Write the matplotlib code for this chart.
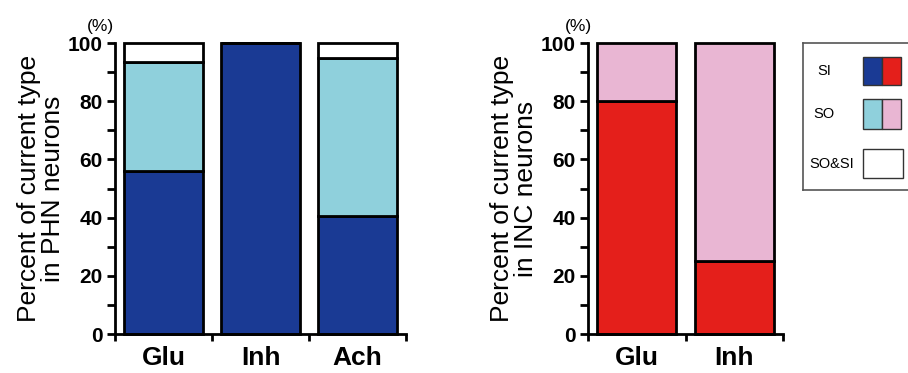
import matplotlib
matplotlib.use("Agg")
import matplotlib.pyplot as plt
from matplotlib.patches import Rectangle

plt.rcParams['font.family'] = ['Liberation Sans', 'DejaVu Sans']

# PHN neurons (left panel)
phn_cats = ["Glu", "Inh", "Ach"]
phn_si = [56, 100, 40.5]
phn_so = [37.5, 0, 54.5]
phn_sosi = [6.5, 0, 5]

# INC neurons (right panel)
inc_cats = ["Glu", "Inh"]
inc_si = [80, 25]
inc_so = [20, 75]

yticks = [0, 20, 40, 60, 80, 100]

dark_blue = "#1a3a94"
light_blue = "#8fd0dc"
red = "#e41f1b"
pink = "#e9b6d3"

W, H = 908, 373
fig = plt.figure(figsize=(W / 100, H / 100), dpi=100)


def style_axes(ax, ncat, ylabel):
    ax.set_xlim(-0.5, ncat - 0.5)
    ax.set_ylim(0, 100)
    for s in ["top", "right"]:
        ax.spines[s].set_visible(False)
    for s in ["left", "bottom"]:
        ax.spines[s].set_linewidth(2)
    ax.set_yticks(yticks)
    ax.set_yticks(range(10, 100, 20), minor=True)
    ax.set_yticklabels([str(v) for v in yticks], fontsize=15, fontweight="bold")
    ax.tick_params(axis="y", which="both", direction="out", length=6, width=2, pad=3)
    ax.set_xticks([i - 0.5 for i in range(ncat + 1)])
    ax.set_xticklabels([])
    ax.tick_params(axis="x", direction="out", length=5, width=2)
    ax.set_ylabel(ylabel, fontsize=19, linespacing=1.0, labelpad=2)
    ax.text(-0.05, 1.03, "(%)", transform=ax.transAxes, fontsize=12.5,
            ha="center", va="bottom")


def stack(ax, cats, layers):
    x = range(len(cats))
    bottom = [0] * len(cats)
    for vals, col in layers:
        ax.bar(x, vals, width=0.815, bottom=bottom, color=col,
               edgecolor="black", linewidth=2, clip_on=False, zorder=2)
        bottom = [b + v for b, v in zip(bottom, vals)]
    for i, c in enumerate(cats):
        ax.text(i, -0.04, c, transform=ax.get_xaxis_transform(),
                ha="center", va="top", fontsize=19, fontweight="bold")


# left panel
ax1 = fig.add_axes([115 / W, 39 / H, 291 / W, 291 / H])
stack(ax1, phn_cats, [(phn_si, dark_blue), (phn_so, light_blue), (phn_sosi, "white")])
style_axes(ax1, len(phn_cats), "Percent of current type\nin PHN neurons")

# right panel
ax2 = fig.add_axes([588 / W, 39 / H, 195 / W, 291 / H])
stack(ax2, inc_cats, [(inc_si, red), (inc_so, pink)])
style_axes(ax2, len(inc_cats), "Percent of current type\nin INC neurons")

# legend box (cut off at right edge like the original)
lg = fig.add_axes([803 / W, (H - 190) / H, 120 / W, 147 / H])
lg.set_xlim(803, 923)
lg.set_ylim(190, 43)
lg.set_xticks([])
lg.set_yticks([])
lg.spines["right"].set_visible(False)
for s in ["left", "top", "bottom"]:
    lg.spines[s].set_linewidth(1.2)
    lg.spines[s].set_color("#555555")
legend_rows = [("SI", [dark_blue, red], 57, 85, 824),
               ("SO", [light_blue, pink], 99, 129, 824),
               ("SO&SI", ["white"], 149, 178, 832)]
for name, cols, y0, y1, tx in legend_rows:
    w = 38 / len(cols) if len(cols) > 1 else 40
    for j, col in enumerate(cols):
        lg.add_patch(Rectangle((863 + j * w, y0), w, y1 - y0, facecolor=col,
                               edgecolor="#333333", linewidth=1))
    lg.text(tx, (y0 + y1) / 2, name, ha="center", va="center", fontsize=10.5)

fig.savefig("out.png", dpi=100)
